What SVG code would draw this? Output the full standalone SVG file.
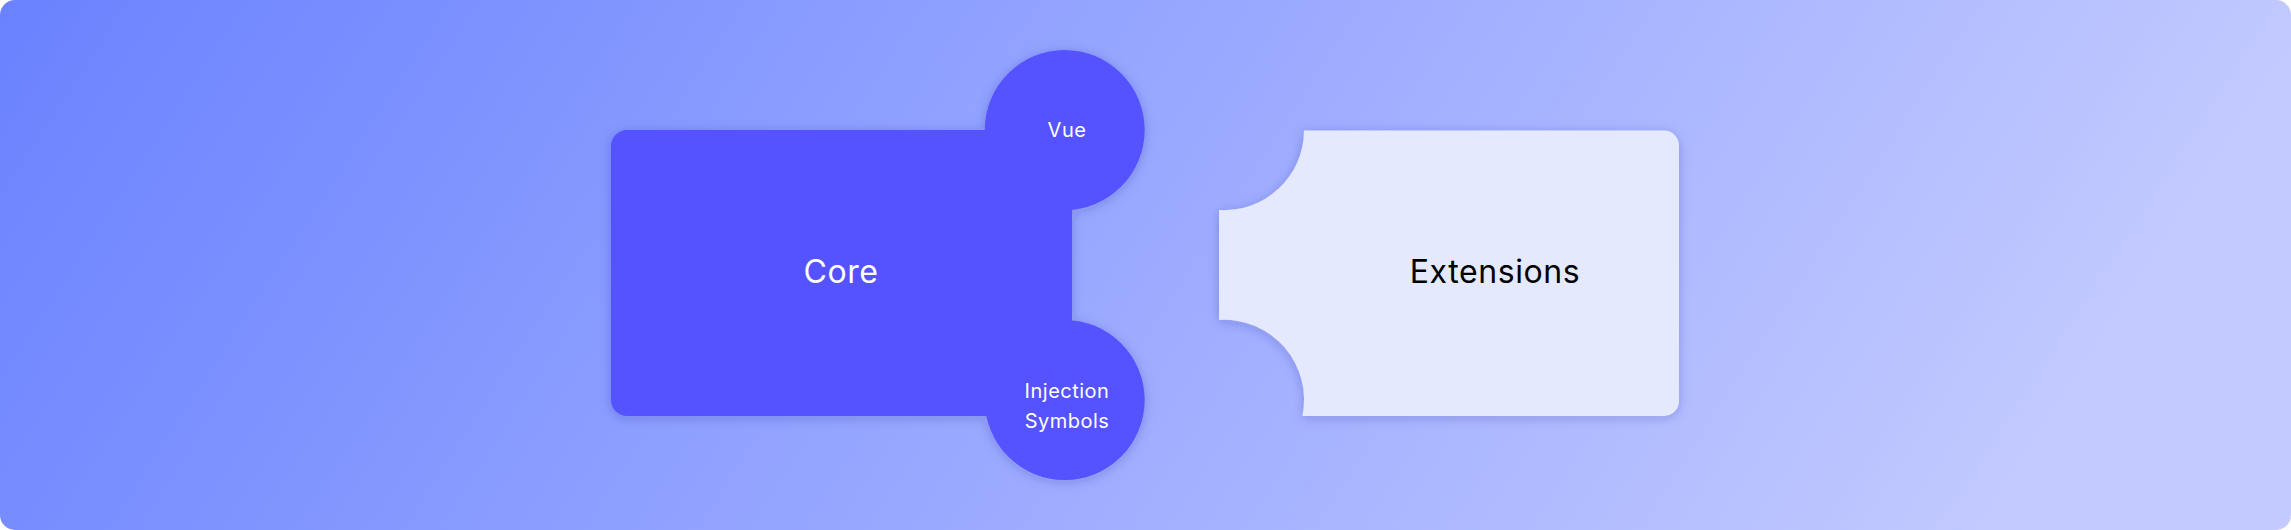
<svg xmlns="http://www.w3.org/2000/svg" width="2291" height="530" viewBox="0 0 2291 530">
  <defs>
    <linearGradient id="bg" x1="0" y1="0" x2="1" y2="0.15">
      <stop offset="0" stop-color="#6a82ff"/>
      <stop offset="1" stop-color="#c2caff"/>
    </linearGradient>
    <filter id="shadow" x="-20%" y="-30%" width="140%" height="160%">
      <feDropShadow dx="0" dy="2" stdDeviation="6" flood-color="#1e2a8a" flood-opacity="0.22"/>
    </filter>
    <style>
      .lbl { font-family: Inter, "Open Sans", "DejaVu Sans", sans-serif; text-anchor: middle; }
      .white { fill: #ffffff; }
      .dark { fill: #000000; }
      .big { font-size: 32px; letter-spacing: 0.6px; }
      .small { font-size: 20px; letter-spacing: 0.5px; }
      .core { fill: #5553ff; }
      .ext { fill: #e4e9fd; }
    </style>
  </defs>

  <rect id="background" x="0" y="0" width="2291" height="530" rx="15" ry="15" fill="url(#bg)"/>

  <g id="connectors"/>

  <g id="core" filter="url(#shadow)">
    <rect class="core" x="611" y="130" width="461" height="286" rx="16" ry="16"/>
    <rect class="core" x="1040" y="130" width="32" height="286"/>
    <circle class="core" cx="1064.7" cy="130" r="80"/>
    <circle class="core" cx="1064.7" cy="400" r="80"/>
  </g>
  <g id="core-label">
    <text class="lbl white big" x="841" y="283">Core</text>
  </g>
  <g id="vue">
    <text class="lbl white small" x="1067" y="137">Vue</text>
  </g>
  <g id="injection-symbols">
    <text class="lbl white small" x="1067" y="398">Injection</text>
    <text class="lbl white small" x="1067" y="428">Symbols</text>
  </g>

  <g id="extensions">
    <path class="ext" filter="url(#shadow)" d="M 1304 130.5 H 1664 A 15 15 0 0 1 1679 145.5 V 401 A 15 15 0 0 1 1664 416 H 1302.4 A 80 80 0 0 0 1219 320 V 210 A 80 80 0 0 0 1304 130.5 Z"/>
    <text class="lbl dark big" x="1495" y="283">Extensions</text>
  </g>
</svg>
